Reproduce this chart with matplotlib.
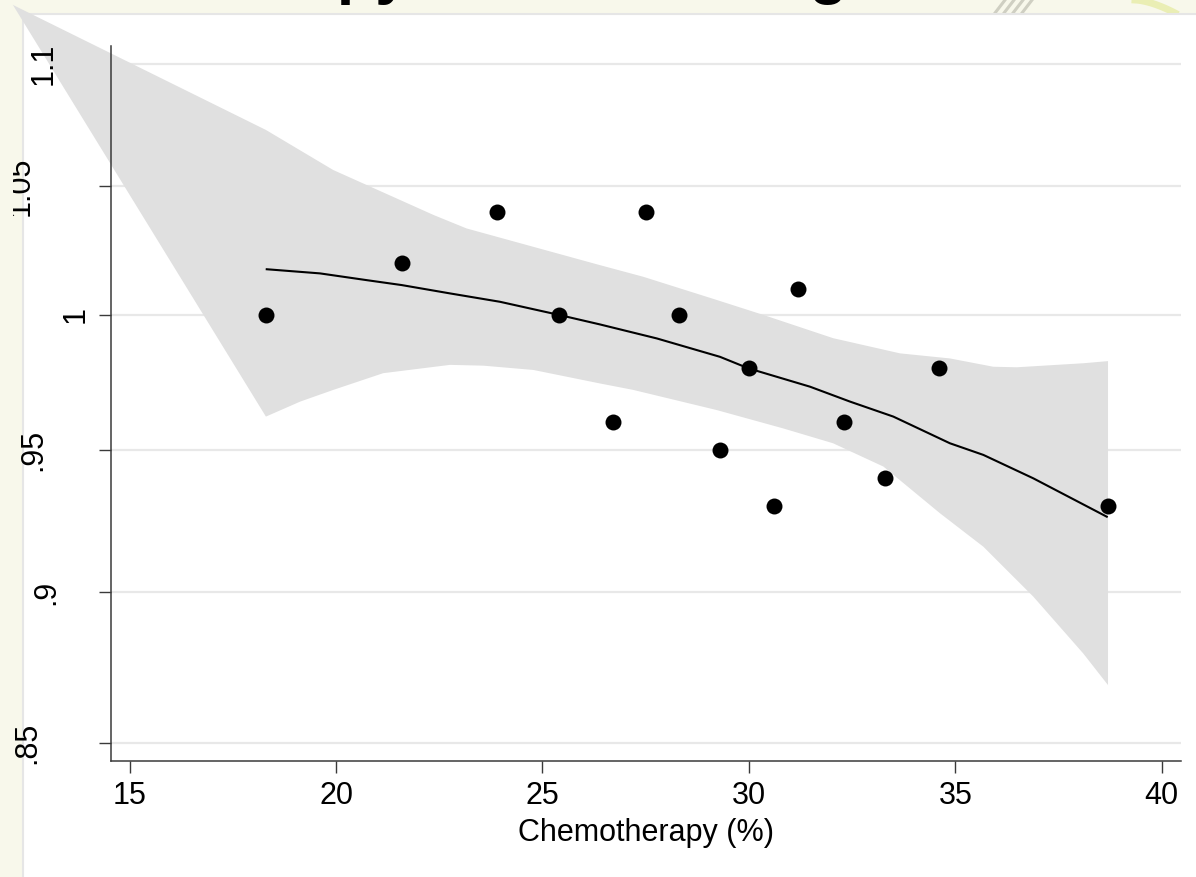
import numpy as np
import matplotlib
matplotlib.use('Agg')
import matplotlib.pyplot as plt
from matplotlib.patches import Rectangle
from matplotlib.lines import Line2D
from matplotlib.transforms import Bbox, TransformedBbox, blended_transform_factory
import matplotlib.ticker as mticker

plt.rcParams['font.family'] = ['Liberation Sans', 'DejaVu Sans']

# ---------------- data ----------------
title_text = "Chemotherapy and Modelling"
x_label = "Chemotherapy (%)"

x_vals = [18.3, 21.6, 23.9, 25.4, 26.7, 27.5, 28.3, 29.3, 30.0, 30.6, 31.2, 32.3, 33.3, 34.6, 38.7]
y_vals = [1.00, 1.02, 1.04, 1.00, 0.96, 1.04, 1.00, 0.95, 0.98, 0.93, 1.01, 0.96, 0.94, 0.98, 0.93]

fit_x = [18.32, 19.61, 20.74, 21.59, 22.76, 23.97, 25.40, 26.39, 27.77, 29.30, 29.99,
         31.48, 32.45, 33.50, 34.87, 35.68, 36.89, 38.67]
fit_y = [1.0175, 1.0159, 1.0133, 1.0114, 1.0082, 1.0050, 1.000, 0.9964, 0.9911, 0.9842, 0.9799,
         0.9731, 0.9676, 0.9621, 0.9524, 0.9482, 0.9398, 0.9262]

ci_apex_x = [12.17]
ci_apex_y = [1.125]
ci_up_x = [18.3, 19.93, 20.74, 22.36, 23.16, 24.78, 26.39, 27.44, 29.22, 30.35, 32.04,
           33.66, 34.87, 35.92, 36.49, 38.10, 38.7]
ci_up_y = [1.0728, 1.0566, 1.0506, 1.0387, 1.0334, 1.0262, 1.0191, 1.0146, 1.0057, 1.000, 0.9912,
           0.9855, 0.9836, 0.9805, 0.9803, 0.9818, 0.9826]
ci_lo_x = [18.3, 19.13, 19.93, 21.14, 22.76, 23.57, 24.78, 26.39, 27.20, 29.22, 30.83,
           32.04, 33.26, 34.63, 35.68, 36.89, 38.10, 38.7]
ci_lo_y = [0.9621, 0.9676, 0.9719, 0.9781, 0.9812, 0.9809, 0.9793, 0.9743, 0.9719, 0.9645, 0.9578,
           0.9524, 0.9440, 0.9274, 0.9157, 0.8985, 0.8793, 0.8688]

x_ticks = [15, 20, 25, 30, 35, 40]
x_ticklabels = ["15", "20", "25", "30", "35", "40"]
y_ticks = [0.85, 0.9, 0.95, 1.0, 1.05, 1.1]
y_ticklabels = [".85", ".9", ".95", "1", "1.05", "1.1"]

# ---------------- layout (pixels) ----------------
W, H = 1196, 877
ylab_center_px = [27, 46, 33, 76, 21, 44]

fig = plt.figure(figsize=(W / 100, H / 100), dpi=100)
fig.patch.set_facecolor('#f8f8eb')

def fx(px):
    return px / W

def fy(py):
    return 1 - py / H

# white plot region of the embedded chart
fig.patches.append(Rectangle((fx(23), fy(900)), (1250 - 23) / W, (900 - 14) / H,
                             transform=fig.transFigure, facecolor='white',
                             edgecolor='#e6e6e6', linewidth=1.5, zorder=-1))

# slide title (mostly cut off at top, only descenders show)
fig.text(fx(-28), fy(-8), title_text, fontsize=45, fontweight='bold',
         ha='left', va='baseline', color='black', zorder=-2)

# slide decorations at top right
for x0 in [995, 1004, 1013, 1022]:
    fig.lines.append(Line2D([fx(x0), fx(x0 + 10)], [fy(13), fy(0)],
                            transform=fig.transFigure, color='#cfcfc2', lw=2.2, zorder=-2))
t = np.linspace(0, 1, 20)
fig.lines.append(Line2D(fx(1135 + 40 * t), fy(13 * t ** 1.6),
                        transform=fig.transFigure, color='#eaeeb4', lw=5, zorder=-2))

ax = fig.add_axes([fx(111), fy(761), (1181 - 111) / W, (761 - 46) / H])
ax.set_facecolor('white')
ax.set_yscale('log')
ax.set_xlim(14.547, 40.468)
ax.set_ylim(0.8441, 1.10757)

ax.set_axisbelow(True)
ax.yaxis.set_major_locator(mticker.FixedLocator(y_ticks))
ax.yaxis.set_minor_locator(mticker.NullLocator())
ax.yaxis.grid(True, color='#e8e8e8', linewidth=1.6)
ax.xaxis.grid(False)
ax.set_xticks(x_ticks)
ax.set_xticklabels(x_ticklabels)

for s in ['top', 'right']:
    ax.spines[s].set_visible(False)
for s in ['left', 'bottom']:
    ax.spines[s].set_color('#3a3a3a')
    ax.spines[s].set_linewidth(1.1)

ax.tick_params(axis='both', direction='out', length=8.6, width=1.0, color='#3a3a3a')
ax.tick_params(axis='x', labelsize=22, pad=6)
ax.tick_params(axis='y', labelleft=False)

# confidence band (polygon drawn past the axes)
poly_x = ci_apex_x + ci_up_x + ci_lo_x[::-1]
poly_y = ci_apex_y + ci_up_y + ci_lo_y[::-1]
ax.fill(poly_x, poly_y, color='#e0e0e0', linewidth=0, zorder=1, clip_on=False)

ax.plot(fit_x, fit_y, color='black', lw=1.5, zorder=3)
ax.scatter(x_vals, y_vals, s=132, color='black', linewidths=0, zorder=4)

ax.set_xlabel(x_label, fontsize=22, labelpad=5)

# rotated y tick labels
blend = blended_transform_factory(fig.transFigure, ax.transData)
clipbox = TransformedBbox(Bbox.from_extents(fx(13), 0, 1, fy(5)), fig.transFigure)
for v, lab, cx in zip(y_ticks, y_ticklabels, ylab_center_px):
    tx = ax.text(fx(cx), v, lab, transform=blend, rotation=90, ha='center', va='center',
                 fontsize=22, color='black')
    tx.set_clip_on(True)
    tx.set_clip_box(clipbox)

fig.savefig('out.png', dpi=100, facecolor=fig.get_facecolor())
